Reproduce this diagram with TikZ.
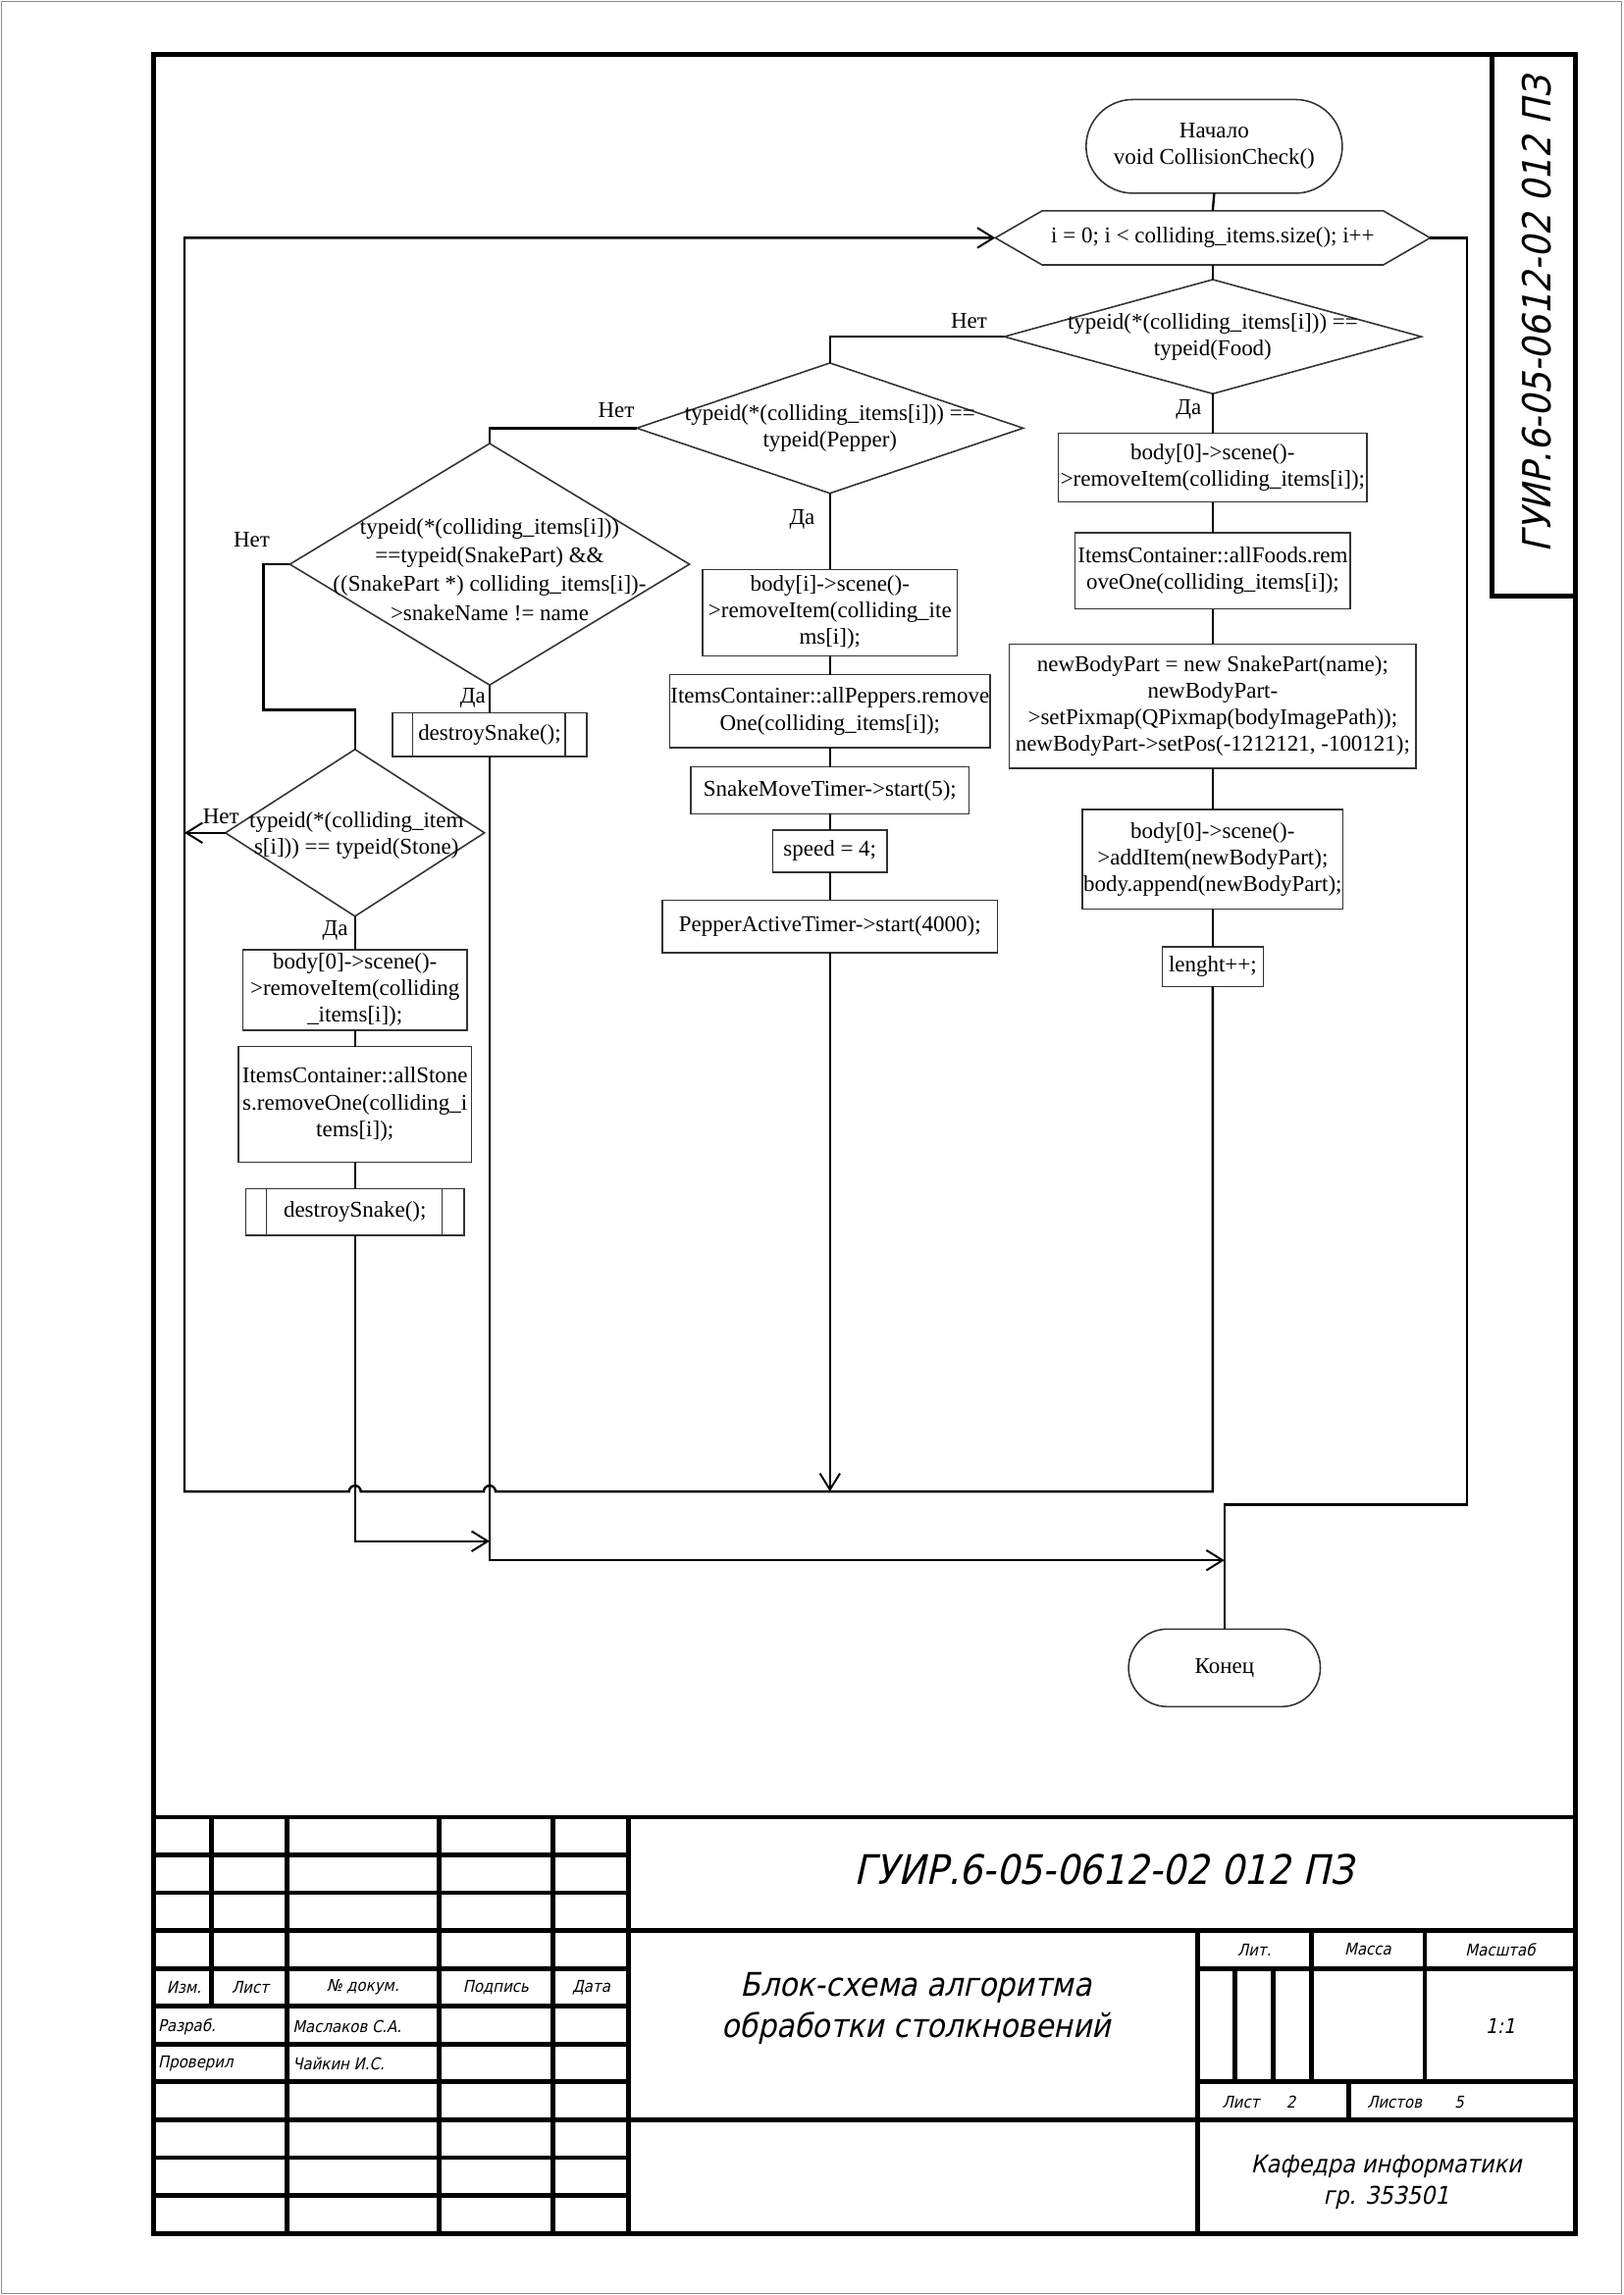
\documentclass[tikz,border=0pt]{standalone}
\usepackage{fontspec}
\setmainfont{Liberation Serif}
\newfontfamily\gostfont[FakeSlant=0.22,FakeStretch=0.9]{DejaVu Sans}
\usetikzlibrary{shapes.geometric,shapes.misc,arrows.meta,calc}
\newlength{\pxu}
\setlength{\pxu}{0.18942mm}
\newcommand{\flowfont}{\fontsize{8.3}{9.8}\selectfont}

\begin{document}
\begin{tikzpicture}[x=0.18942mm, y=-0.18942mm,
  shapeline/.style={draw=black!80, line width=0.2mm},
  procbox/.style={shapeline, rectangle, inner sep=0pt, outer sep=0pt, align=center, font=\flowfont},
  decision/.style={shapeline, diamond, inner sep=0pt, outer sep=0pt},
  terminal/.style={shapeline, rounded rectangle, inner sep=0pt, outer sep=0pt, align=center, font=\flowfont},
  textonly/.style={inner sep=0pt, outer sep=0pt, align=center, font=\flowfont},
  lbl/.style={inner sep=0pt, outer sep=0pt, font=\flowfont},
  conn/.style={line width=0.3mm, line join=miter},
  arr/.style={conn, -{Straight Barb[length=2.1mm, width=2.6mm, line width=0.25mm]}},
  frame/.style={line width=0.6mm, line cap=rect},
  gtext/.style={inner sep=0pt, outer sep=0pt},
  gsmall/.style={gtext, font=\gostfont\fontsize{6}{7}\selectfont},
]
% sheet
\useasboundingbox (0,0) rectangle (1109,1568);
\draw[black!45, line width=0.15mm] (1,1) rectangle (1108,1567);

% ---------- flowchart ----------
\node[terminal, minimum width=175\pxu, minimum height=64\pxu] (start) at (829.5,100) {Начало\\void CollisionCheck()};

\node[inner sep=0pt, outer sep=0pt, minimum width=297\pxu, minimum height=37\pxu, font=\flowfont] (loop) at (828.5,162.5) {i = 0; i < colliding\_items.size(); i++};
\draw[shapeline] (loop.west) -- ($(loop.north west)+(32,0)$) -- ($(loop.north east)+(-32,0)$) -- (loop.east) -- ($(loop.south east)+(-32,0)$) -- ($(loop.south west)+(32,0)$) -- cycle;

% conditions
\node[decision, minimum width=285\pxu, minimum height=78\pxu] (food) at (828.5,230) {};
\node[textonly] (foodtxt) at (828.5,230) {typeid(*(colliding\_items[i])) ==\\typeid(Food)};
\node[decision, minimum width=264\pxu, minimum height=89\pxu] (pepper) at (567,292.5) {};
\node[textonly] (peppertxt) at (567,292.5) {typeid(*(colliding\_items[i])) ==\\typeid(Pepper)};
\node[decision, minimum width=273\pxu, minimum height=165\pxu] (snake) at (334.5,385.5) {};
\node[textonly, font=\fontsize{8.3}{10.6}\selectfont] (snaketxt) at (334.5,389) {typeid(*(colliding\_items[i]))\\==typeid(SnakePart) \&\&\\((SnakePart *) colliding\_items[i])-\\>snakeName != name};
\node[decision, minimum width=177\pxu, minimum height=114\pxu] (stone) at (242.5,569) {};
\node[textonly] (stonetxt) at (243.5,571) {typeid(*(colliding\_item\\s[i])) == typeid(Stone)};

% food branch
\node[procbox, minimum width=211\pxu, minimum height=47\pxu] (f1) at (828.5,319.5) {body[0]->scene()-\\>removeItem(colliding\_items[i]);};
\node[procbox, minimum width=188\pxu, minimum height=52\pxu] (f2) at (828.5,390) {ItemsContainer::allFoods.rem\\oveOne(colliding\_items[i]);};
\node[procbox, minimum width=278\pxu, minimum height=85\pxu] (f3) at (828.5,482.5) {newBodyPart = new SnakePart(name);\\newBodyPart-\\>setPixmap(QPixmap(bodyImagePath));\\newBodyPart->setPos(-1212121, -100121);};
\node[procbox, minimum width=178\pxu, minimum height=68\pxu] (f4) at (828.5,587) {body[0]->scene()-\\>addItem(newBodyPart);\\body.append(newBodyPart);};
\node[procbox, minimum width=69\pxu, minimum height=27\pxu] (f5) at (828.5,660.5) {lenght++;};

% pepper branch
\node[procbox, minimum width=174\pxu, minimum height=59\pxu] (p1) at (567,418.5) {body[i]->scene()-\\>removeItem(colliding\_ite\\ms[i]);};
\node[procbox, minimum width=219\pxu, minimum height=50\pxu] (p2) at (567,486) {ItemsContainer::allPeppers.remove\\One(colliding\_items[i]);};
\node[procbox, minimum width=190\pxu, minimum height=32\pxu] (p3) at (567,540) {SnakeMoveTimer->start(5);};
\node[procbox, minimum width=78\pxu, minimum height=29\pxu] (p4) at (567,581.5) {speed = 4;};
\node[procbox, minimum width=229\pxu, minimum height=36\pxu] (p5) at (567,633) {PepperActiveTimer->start(4000);};

% snake branch
\node[procbox, minimum width=133\pxu, minimum height=30\pxu] (ds1) at (334.5,502) {destroySnake();};

% stone branch
\node[procbox, minimum width=153\pxu, minimum height=55\pxu] (t1) at (242.5,676.5) {body[0]->scene()-\\>removeItem(colliding\\\_items[i]);};
\node[procbox, minimum width=159\pxu, minimum height=79\pxu] (t2) at (242.5,754.5) {ItemsContainer::allStone\\s.removeOne(colliding\_i\\tems[i]);};
\node[procbox, minimum width=149\pxu, minimum height=32\pxu] (ds2) at (242.5,828) {destroySnake();};

% predefined-process side bars
\foreach \n in {ds1,ds2} {
  \draw[shapeline] ($(\n.north west)+(14,0)$) -- ($(\n.south west)+(14,0)$);
  \draw[shapeline] ($(\n.north east)+(-15,0)$) -- ($(\n.south east)+(-15,0)$);
}

\node[terminal, minimum width=131\pxu, minimum height=53\pxu] (finish) at (836.5,1139.5) {Конец};

% branch labels
\node[lbl] (n1) at (662,219) {Нет};
\node[lbl] (y1) at (812,280) {Да};
\node[lbl] (n2) at (421,280) {Нет};
\node[lbl] (y2) at (548,355) {Да};
\node[lbl] (n3) at (172,369) {Нет};
\node[lbl] (y3) at (323,477) {Да};
\node[lbl] (n4) at (151,558) {Нет};
\node[lbl] (y4) at (229,636) {Да};

% helper points
\coordinate (busy) at (0,1019);
\coordinate (loopx) at (126,0);
\coordinate (joinA) at (334.5,1053);
\coordinate (joinB) at (836.5,1066);

% connectors
\draw[conn] (start.south) -- (loop.north);
\draw[conn] (loop.south) -- (food.north);
\draw[conn] (food.south) -- (f1.north);
\draw[conn] (f1.south) -- (f2.north);
\draw[conn] (f2.south) -- (f3.north);
\draw[conn] (f3.south) -- (f4.north);
\draw[conn] (f4.south) -- (f5.north);
\draw[conn] (food.west) -| (pepper.north);
\draw[conn] (pepper.south) -- (p1.north);
\draw[conn] (p1.south) -- (p2.north);
\draw[conn] (p2.south) -- (p3.north);
\draw[conn] (p3.south) -- (p4.north);
\draw[conn] (p4.south) -- (p5.north);
\draw[arr] (p5.south) -- (p5.south |- busy);
\draw[conn] (pepper.west) -| (snake.north);
\draw[conn] (snake.south) -- (ds1.north);
\draw[conn] (snake.west) -- ++(-18,0) -- ++(0,99.5) -| (stone.north);
\draw[arr] (stone.west) -- (stone.west -| loopx);
\draw[conn] (stone.south) -- (t1.north);
\draw[conn] (t1.south) -- (t2.north);
\draw[conn] (t2.south) -- (ds2.north);
% loop return with bridges over the crossing lines
\draw[arr] (f5.south) -- (f5.south |- busy) -- (338.5,1019)
  arc[start angle=0, end angle=180, radius=4\pxu] -- (246.5,1019)
  arc[start angle=0, end angle=180, radius=4\pxu] -- (126,1019) -- (126,162.5) -- (loop.west);
\draw[arr] (ds2.south) |- (joinA);
\draw[arr] (ds1.south) |- (joinB);
\draw[conn] (loop.east) -- (1002,162.5) -- (1002,1028) -| (finish.north);

% ---------- frame and title block ----------
\draw[frame] (105,37) rectangle (1076.5,1526);
\draw[frame] (1019.5,37) -- (1019.5,407) -- (1076.5,407);
\draw[frame] (105,1241.5) -- (1076.5,1241.5);
\draw[frame] (105,1319) -- (1076.5,1319);
\draw[frame] (105,1448.3) -- (1076.5,1448.3);
\foreach \yy in {1267.3,1293.2,1344.9,1370.7,1396.6,1422.4,1474.1,1500}
  \draw[frame] (105,\yy) -- (429.6,\yy);
\draw[frame] (818,1344.9) -- (1076.5,1344.9);
\draw[frame] (818,1422.4) -- (1076.5,1422.4);
\draw[frame] (144.4,1241.5) -- (144.4,1370.7);
\foreach \xx in {196.2,299.9,377.7,429.6}
  \draw[frame] (\xx,1241.5) -- (\xx,1526);
\draw[frame] (818,1319) -- (818,1526);
\foreach \xx in {895.8,973.3}
  \draw[frame] (\xx,1319) -- (\xx,1422.4);
\foreach \xx in {843.7,869.8}
  \draw[frame] (\xx,1344.9) -- (\xx,1422.4);
\draw[frame] (921.2,1422.4) -- (921.2,1448.3);

\node[gtext, font=\gostfont\fontsize{15}{15}\selectfont] (code) at (754,1277) {ГУИР.6-05-0612-02 012 ПЗ};
\node[gtext, rotate=90, font=\gostfont\fontsize{14.3}{15}\selectfont] (codev) at (1050,215) {ГУИР.6-05-0612-02 012 ПЗ};
\node[gtext, align=center, font=\gostfont\fontsize{12}{15}\selectfont] (title) at (626,1372) {Блок-схема алгоритма\\обработки столкновений};
\node[gtext, align=center, font=\gostfont\fontsize{9}{11.8}\selectfont] (dept) at (947,1491) {Кафедра информатики\\гр. 353501};

\node[gsmall] (h1) at (125.7,1357.8) {Изм.};
\node[gsmall] (h2) at (171,1357.8) {Лист};
\node[gsmall] (h3) at (248,1357.8) {№ докум.};
\node[gsmall] (h4) at (338.8,1357.8) {Подпись};
\node[gsmall] (h5) at (404,1357.8) {Дата};
\node[gsmall, anchor=west] (r1) at (108,1384.5) {Разраб.};
\node[gsmall, anchor=west] (r2) at (200,1384.5) {Маслаков С.А.};
\node[gsmall, anchor=west] (r3) at (108,1410) {Проверил};
\node[gsmall, anchor=west] (r4) at (200,1410) {Чайкин И.С.};
\node[gsmall] (k1) at (857,1332) {Лит.};
\node[gsmall] (k2) at (934.5,1332) {Масса};
\node[gsmall] (k3) at (1025,1332) {Масштаб};
\node[gtext, font=\gostfont\fontsize{7.5}{7.5}\selectfont] (scale) at (1025,1384) {1:1};
\node[gsmall, anchor=west] (s1) at (835,1436) {Лист};
\node[gsmall] (s2) at (882,1436) {2};
\node[gsmall, anchor=west] (s3) at (934,1436) {Листов};
\node[gsmall] (s4) at (997,1436) {5};
\end{tikzpicture}
\end{document}
